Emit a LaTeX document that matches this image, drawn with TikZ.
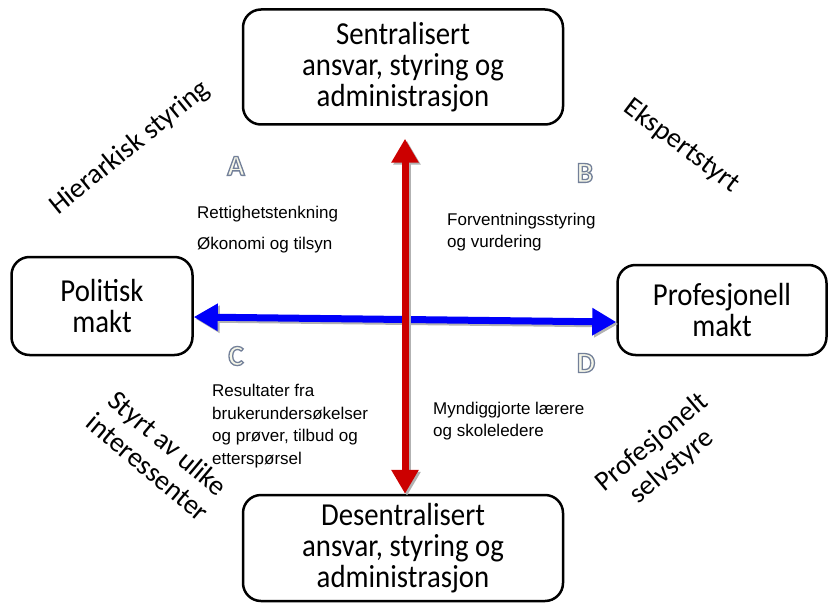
\documentclass[tikz,border=0pt]{standalone}
\usepackage{fontspec}
\setmainfont{Carlito}
\newfontfamily\boxfont[FakeStretch=0.9]{Carlito}
\newfontfamily\notefont{Liberation Sans}
\usetikzlibrary{arrows.meta}

\definecolor{redarrow}{RGB}{204,0,0}
\definecolor{bluearrow}{RGB}{0,0,250}
\definecolor{letterfill}{RGB}{246,246,232}
\newcommand\hollow[1]{{\color{letterfill}\special{pdf:literal direct 2 Tr 1.3 w 0.45 0.50 0.60 RG}#1\special{pdf:literal direct 0 Tr}}}

\tikzset{
  box/.style={draw, line width=2.5pt, rounded corners=18pt, align=center, inner sep=0pt,
    font=\boxfont\fontsize{32}{31}\selectfont},
  side/.style={font=\fontsize{28}{31}\selectfont, align=center, inner sep=0pt},
  note/.style={font=\notefont\fontsize{17}{22.5}\selectfont, align=left, anchor=west, inner sep=0pt},
  letter/.style={font=\bfseries\fontsize{29}{29}\selectfont, inner sep=0pt},
  fat/.style={line width=7pt, {Triangle[width=26pt,length=24pt]}-{Triangle[width=26pt,length=24pt]}},
  shade/.style={fat, black!30, transform canvas={xshift=2pt,yshift=-2pt}}
}

\begin{document}
\begin{tikzpicture}[x=1pt,y=-1pt]
\useasboundingbox (0,0) rectangle (829,604);

\node[box, minimum width=320pt, minimum height=115pt] (sentral) at (403,67) {Sentralisert\\ansvar, styring og\\administrasjon};
\node[box, minimum width=320pt, minimum height=106pt] (desentral) at (403,548) {Desentralisert\\ansvar, styring og\\administrasjon};
\node[box, minimum width=181pt, minimum height=98pt] (politisk) at (102,306) {Politisk\\makt};
\node[box, minimum width=209pt, minimum height=90pt] (profesjonell) at (722,310) {Profesjonell\\makt};

\draw[shade] ([yshift=-11pt]politisk.east) -- ([yshift=-12pt]profesjonell.west);
\draw[fat, bluearrow] ([yshift=-11pt]politisk.east) -- ([yshift=-12pt]profesjonell.west);
\draw[shade, shorten <=13pt] ([xshift=2pt]sentral.south) -- ([xshift=2pt]desentral.north);
\draw[fat, redarrow, shorten <=13pt] ([xshift=2pt]sentral.south) -- ([xshift=2pt]desentral.north);

\foreach \l/\x/\y in {A/236/166, B/585/173, C/236/356, D/586/363}
  \node[letter] (letter\l) at (\x,\y) {\hollow{\l}};

\node[side, rotate=39] (hierarkisk) at (130,148) {Hierarkisk styring};
\node[side, rotate=-37] (ekspert) at (682,146) {Ekspertstyrt};
\node[side, rotate=-40] (interesse) at (158,455) {Styrt av ulike\\interessenter};
\node[side, rotate=40] (selvstyre) at (662,455) {Profesjonelt\\selvstyre};

\node[note] (rettighet) at (197,214) {Rettighetstenkning};
\node[note] (okonomi) at (197,245) {Økonomi og tilsyn};
\node[note] (forventning) at (447,232) {Forventningsstyring\\og vurdering};
\node[note] (resultat) at (212,426) {Resultater fra\\brukerundersøkelser\\og prøver, tilbud og\\etterspørsel};
\node[note] (myndig) at (433,421) {Myndiggjorte lærere\\og skoleledere};

\end{tikzpicture}
\end{document}
